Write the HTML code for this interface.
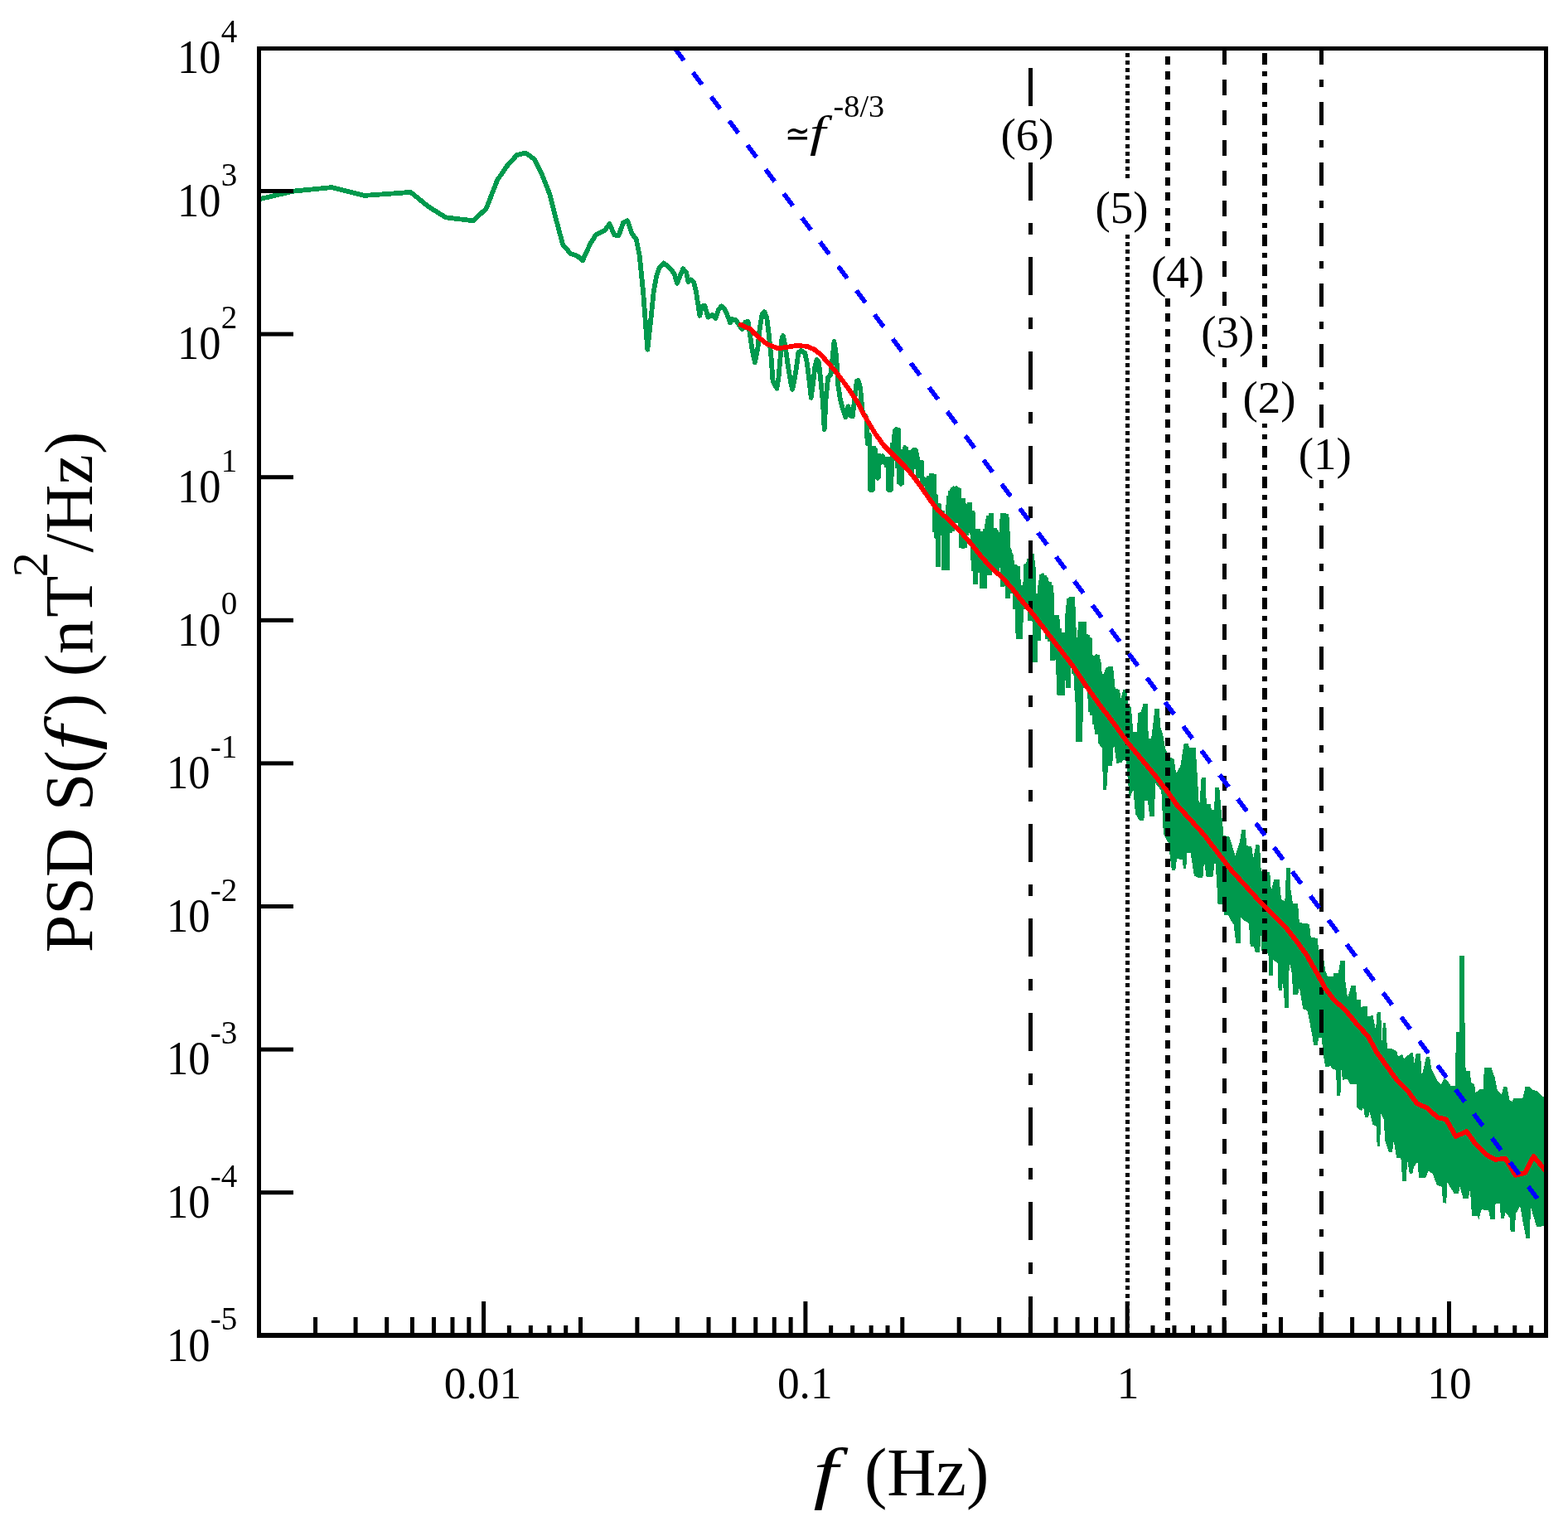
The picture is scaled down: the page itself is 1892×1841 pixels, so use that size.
<!DOCTYPE html>
<html><head><meta charset="utf-8"><title>PSD</title><style>html,body{margin:0;padding:0;background:#fff;overflow:hidden}</style></head><body>
<svg width="1892" height="1841" viewBox="0 0 1892 1841" style="display:block">
<rect width="100%" height="100%" fill="#fff"/>
<defs><clipPath id="pc"><rect x="315" y="61" width="1548" height="1547"/></clipPath></defs>
<g clip-path="url(#pc)" shape-rendering="crispEdges">
<polyline points="300.0,242.5 314.5,239.9 354.2,230.6 400.4,226.1 440.0,235.9 495.6,231.9 516.7,249.1 537.8,262.3 570.9,266.3 586.7,251.7 600.0,217.4 611.8,200.2 623.7,187.0 634.3,184.5 644.9,192.3 654.1,210.8 663.4,234.6 670.0,261.0 679.2,295.3 688.5,305.9 696.4,308.6 703.0,314.4 712.3,294.0 718.9,283.5 729.4,278.2 735.5,270.2 741.3,283.5 746.6,284.0 751.9,268.9 757.2,266.3 762.5,282.1 767.8,288.7 771.7,308.6 776.1,352.1 781.3,421.7 786.1,378.2 788.7,352.1 792.2,333.0 795.6,322.6 800.8,317.4 805.2,320.9 810.8,326.1 814.3,332.2 816.9,341.7 820.8,332.2 824.3,324.3 828.2,328.7 830.4,340.0 833.9,337.4 837.3,340.8 840.0,352.1 842.6,369.5 844.3,380.8 846.9,369.5 850.4,368.7 854.3,382.6 859.1,380.0 863.4,384.3 866.9,373.9 870.4,369.5 873.9,372.1 876.9,378.2 881.2,389.5 883.4,385.2 887.8,386.0 891.2,391.3 895.6,397.3 899.5,388.6 902.5,387.8 904.3,399.1 907.4,420.8 910.9,437.4 914.3,420.8 916.9,394.8 919.6,379.1 922.2,376.1 925.2,382.6 927.8,403.5 930.4,429.5 932.6,460.0 937.4,468.6 939.5,455.6 941.7,429.5 943.5,407.8 944.8,405.2 947.4,416.5 950.4,438.2 953.9,460.0 956.1,469.9 959.1,455.6 961.7,438.2 963.4,425.2 966.9,423.0 971.3,426.1 973.9,438.2 976.5,460.0 978.7,479.9 980.8,464.3 983.4,442.6 985.6,433.9 987.8,436.5 990.0,455.6 993.0,486.0 994.7,518.0 996.5,481.7 999.1,455.6 1002.6,451.3 1004.3,433.9 1006.5,412.1 1009.1,429.5 1011.2,464.3 1013.9,481.7 1016.9,493.0 1020.4,503.4 1023.4,490.4 1025.2,500.8 1028.6,502.5 1031.2,481.7 1033.8,460.0 1035.6,459.1 1038.2,468.6 1040.4,494.7 1042.5,500.8" fill="none" stroke="#00994d" stroke-width="5.8" stroke-linejoin="round"/><polyline points="1040.4,494.7 1042.5,500.8 1044.8,502.5 1045.7,507.7 1046.6,534.3 1047.6,536.7 1048.5,522.2 1049.4,534.6 1050.2,591.4 1051.1,591.4 1052.0,591.4 1052.9,591.4 1053.8,538.5 1054.7,542.9 1055.5,540.3 1056.4,548.0 1057.2,557.5 1058.1,573.7 1058.9,577.1 1059.8,577.1 1060.6,560.9 1061.5,549.5 1062.3,548.2 1063.1,559.4 1064.0,549.3 1064.8,549.6 1065.6,557.6 1066.4,552.5 1067.2,551.8 1068.0,558.7 1068.8,551.1 1069.6,563.9 1070.4,556.1 1071.2,553.2 1072.0,591.4 1072.8,591.4 1073.5,551.2 1074.3,591.4 1075.1,591.4 1075.9,565.7 1076.6,556.7 1077.4,533.7 1078.1,548.2 1078.9,536.5 1079.7,517.7 1080.4,550.2 1081.1,517.7 1081.9,517.7 1082.6,565.4 1083.4,517.7 1084.1,518.2 1084.8,584.3 1085.5,543.6 1086.3,584.3 1087.0,584.3 1087.7,584.3 1088.4,571.6 1089.1,542.1 1089.8,549.1 1090.5,543.4 1091.2,549.0 1091.9,539.7 1092.6,539.4 1093.3,551.5 1094.0,552.3 1094.7,547.5 1095.4,562.0 1096.1,543.6 1096.7,561.1 1097.4,545.4 1098.1,568.8 1098.8,554.0 1099.4,553.2 1100.1,570.6 1100.8,560.5 1101.4,560.7 1102.1,542.5 1102.7,542.5 1103.4,542.6 1104.0,542.5 1104.7,542.5 1105.3,565.8 1106.0,546.3 1106.6,550.7 1107.2,556.7 1107.9,569.6 1108.5,577.2 1109.1,567.2 1109.8,555.2 1110.4,563.0 1111.0,571.0 1111.6,555.5 1112.3,576.9 1112.9,574.9 1113.5,582.2 1114.1,585.3 1114.7,585.9 1115.3,581.6 1115.9,583.0 1116.5,576.4 1117.1,582.1 1117.7,576.4 1118.3,582.5 1118.9,584.6 1119.5,597.3 1120.1,580.1 1120.7,574.0 1121.3,585.9 1121.9,574.5 1122.4,603.4 1123.0,579.8 1123.6,579.5 1124.2,571.4 1124.8,581.5 1125.3,579.7 1125.9,579.9 1126.5,588.5 1127.0,572.5 1127.6,594.2 1128.2,641.9 1128.7,597.3 1129.3,619.8 1129.8,648.8 1130.4,641.9 1131.0,637.4 1131.5,652.4 1132.1,684.1 1132.6,607.3 1133.1,621.9 1133.7,616.2 1134.2,614.7 1134.8,632.9 1135.3,618.5 1135.9,638.2 1136.4,635.8 1136.9,616.1 1137.5,628.1 1138.0,626.2 1138.5,650.8 1139.0,688.0 1139.6,620.9 1140.1,688.0 1140.6,629.2 1141.1,688.0 1141.7,626.3 1142.2,688.0 1142.7,678.3 1143.2,688.0 1143.7,613.7 1144.2,611.0 1144.7,606.6 1145.3,597.8 1145.8,607.1 1146.3,642.7 1146.8,591.8 1147.3,599.6 1147.8,615.5 1148.3,635.1 1148.8,641.4 1149.3,590.1 1149.8,589.2 1150.3,618.3 1150.8,589.1 1151.2,589.0 1151.7,590.0 1152.2,589.0 1152.7,631.1 1153.2,589.0 1153.7,589.0 1154.2,589.0 1154.6,597.2 1155.1,589.0 1155.6,591.5 1156.1,589.0 1156.6,597.6 1157.0,589.5 1157.5,624.3 1158.0,610.6 1158.4,620.3 1158.9,640.8 1159.4,625.0 1159.8,661.3 1160.3,620.8 1160.8,661.4 1161.2,612.3 1161.7,645.9 1162.2,601.4 1162.6,656.9 1163.1,661.4 1163.5,607.4 1164.0,661.4 1164.4,628.0 1164.9,618.7 1165.3,626.1 1165.8,645.7 1166.2,627.3 1166.7,617.7 1167.1,618.6 1167.6,625.7 1168.0,608.2 1168.5,626.1 1168.9,622.5 1169.4,635.2 1169.8,615.6 1170.2,606.2 1170.7,619.0 1171.1,643.0 1171.5,628.6 1172.0,631.6 1172.4,617.2 1172.8,616.5 1173.3,645.0 1173.7,618.0 1174.1,672.9 1174.6,678.0 1175.0,688.7 1175.4,641.2 1175.8,640.8 1176.3,687.3 1176.7,648.3 1177.1,704.9 1177.5,647.3 1177.9,665.4 1178.4,640.1 1178.8,652.3 1179.2,665.1 1179.6,670.6 1180.0,637.9 1180.4,680.1 1180.8,648.6 1181.3,648.9 1181.7,657.3 1182.1,642.8 1182.5,690.9 1182.9,641.4 1183.3,657.2 1183.7,641.0 1184.1,663.7 1184.5,695.5 1184.9,710.0 1185.3,641.4 1185.7,665.4 1186.1,710.1 1186.5,643.2 1186.9,710.1 1187.3,672.3 1187.7,674.2 1188.1,710.0 1188.5,661.6 1188.9,663.1 1189.3,637.8 1189.7,658.2 1190.0,649.8 1190.4,660.4 1190.8,642.9 1191.2,632.1 1191.6,636.4 1192.0,684.5 1192.4,625.7 1192.8,624.4 1193.1,622.8 1193.5,674.0 1193.9,694.0 1194.3,624.3 1194.7,624.7 1195.0,622.3 1195.4,644.3 1195.8,634.6 1196.2,619.3 1196.5,623.0 1196.9,677.1 1197.3,637.1 1197.7,669.1 1198.0,669.0 1198.4,682.8 1198.8,644.5 1199.1,653.3 1199.5,650.9 1199.9,636.9 1200.2,649.6 1200.6,686.0 1201.0,684.1 1201.3,639.3 1201.7,662.0 1202.1,645.1 1202.4,641.7 1202.8,642.3 1203.2,674.6 1203.5,691.8 1203.9,656.1 1204.2,650.5 1204.6,656.7 1204.9,680.6 1205.3,673.8 1205.7,645.7 1206.0,646.2 1206.4,685.4 1206.7,653.0 1207.1,663.6 1207.4,674.7 1207.8,659.5 1208.1,668.6 1208.5,649.0 1208.8,629.4 1209.2,626.1 1209.5,707.6 1209.9,619.5 1210.2,659.4 1210.6,688.7 1210.9,622.6 1211.2,619.1 1211.6,631.7 1211.9,627.5 1212.3,636.9 1212.6,634.4 1213.0,705.0 1213.3,620.6 1213.6,706.8 1214.0,620.0 1214.3,707.1 1214.6,629.1 1215.0,670.6 1215.3,624.5 1215.7,646.0 1216.0,722.3 1216.3,672.9 1216.7,696.0 1217.0,661.0 1217.3,669.3 1217.6,682.6 1218.0,662.9 1218.3,703.2 1218.6,673.0 1219.0,668.1 1219.3,668.4 1219.6,688.9 1219.9,669.4 1220.3,673.6 1220.6,676.8 1220.9,677.6 1221.2,700.6 1221.6,693.5 1221.9,716.4 1222.2,702.2 1222.5,685.9 1222.9,686.6 1223.2,683.3 1223.5,684.9 1223.8,698.2 1224.1,706.4 1224.5,686.2 1224.8,687.6 1225.1,715.3 1225.4,735.2 1225.7,683.2 1226.0,683.1 1226.3,722.1 1226.7,699.3 1227.0,682.9 1227.3,714.2 1227.6,731.1 1227.9,682.9 1228.2,763.8 1228.5,763.3 1228.8,700.5 1229.2,771.0 1229.5,699.1 1229.8,720.6 1230.1,771.0 1230.4,718.8 1230.7,757.3 1231.0,771.0 1231.3,747.9 1231.6,705.6 1231.9,751.4 1232.2,706.0 1232.5,707.8 1232.8,727.0 1233.1,710.1 1233.4,708.6 1233.7,709.1 1234.0,724.8 1234.3,710.4 1234.6,711.2 1234.9,732.5 1235.2,725.1 1235.5,712.3 1235.8,707.2 1236.1,727.1 1236.4,721.5 1236.7,713.4 1237.0,704.9 1237.3,702.6 1237.6,734.8 1237.9,698.3 1238.2,683.2 1238.5,680.2 1238.8,697.8 1239.0,708.5 1239.3,699.4 1239.6,709.5 1239.9,680.3 1240.2,682.9 1240.5,678.6 1240.8,682.4 1241.1,678.0 1241.4,722.1 1241.6,674.4 1241.9,675.2 1242.2,709.3 1242.5,682.4 1242.8,679.2 1243.1,749.1 1243.4,736.6 1243.6,673.3 1243.9,671.3 1244.2,688.3 1244.5,695.9 1244.8,677.6 1245.1,668.2 1245.3,708.8 1245.6,730.6 1245.9,676.0 1246.2,712.2 1246.5,681.5 1246.7,686.8 1247.0,691.9 1247.3,697.7 1247.6,750.3 1247.8,716.4 1248.1,728.3 1248.4,728.3 1248.7,718.4 1248.9,799.0 1249.2,717.9 1249.5,774.9 1249.8,723.4 1250.0,727.8 1250.3,720.1 1250.6,755.7 1250.9,750.6 1251.1,724.9 1251.4,732.2 1251.7,725.2 1251.9,736.5 1252.2,737.6 1252.5,735.9 1252.7,768.2 1253.0,773.4 1253.3,716.0 1253.6,723.2 1253.8,716.0 1254.1,722.3 1254.3,750.6 1254.6,737.5 1254.9,726.4 1255.1,705.6 1255.4,743.5 1255.7,721.7 1255.9,700.3 1256.2,735.4 1256.5,693.6 1256.7,695.3 1257.0,693.6 1257.3,693.8 1257.5,694.6 1257.8,709.3 1258.0,727.0 1258.3,715.9 1258.6,694.2 1258.8,698.3 1259.1,726.8 1259.3,701.3 1259.6,696.4 1259.8,694.6 1260.1,698.4 1260.4,754.0 1260.6,695.0 1260.9,713.7 1261.1,751.3 1261.4,727.0 1261.6,700.0 1261.9,723.2 1262.1,697.4 1262.4,712.6 1262.7,701.5 1262.9,751.6 1263.2,751.1 1263.4,738.9 1263.7,708.2 1263.9,744.5 1264.2,770.8 1264.4,709.5 1264.7,719.6 1264.9,703.3 1265.2,702.6 1265.4,739.2 1265.7,702.2 1265.9,727.7 1266.2,702.7 1266.4,735.3 1266.7,745.8 1266.9,774.3 1267.2,712.5 1267.4,712.6 1267.6,713.4 1267.9,742.2 1268.1,754.3 1268.4,706.3 1268.6,716.5 1268.9,715.5 1269.1,724.1 1269.4,761.1 1269.6,787.1 1269.8,794.0 1270.1,797.1 1270.3,749.4 1270.6,782.7 1270.8,754.2 1271.1,747.4 1271.3,773.9 1271.5,781.6 1271.8,742.8 1272.0,754.8 1272.3,742.8 1272.5,743.3 1272.7,755.4 1273.0,744.6 1273.2,775.5 1273.4,747.9 1273.7,743.3 1273.9,742.0 1274.2,744.8 1274.4,742.1 1274.6,795.5 1274.9,743.3 1275.1,742.4 1275.3,754.3 1275.6,744.4 1275.8,781.3 1276.0,747.6 1276.3,749.0 1276.5,812.3 1276.7,768.1 1277.0,814.2 1277.2,813.1 1277.4,795.0 1277.7,757.9 1277.9,837.8 1278.1,761.1 1278.4,762.4 1278.6,815.4 1278.8,769.6 1279.0,838.8 1279.3,782.8 1279.5,807.9 1279.7,792.2 1280.0,838.8 1280.2,778.6 1280.4,816.8 1280.6,812.6 1280.9,787.1 1281.1,838.8 1281.3,775.5 1281.6,792.4 1281.8,765.7 1282.0,838.8 1282.2,792.1 1282.5,768.9 1282.7,765.8 1282.9,763.7 1283.1,806.9 1283.4,815.0 1283.6,808.9 1283.8,794.3 1284.0,784.9 1284.3,763.5 1284.5,811.3 1284.7,776.0 1284.9,791.1 1285.1,765.3 1285.4,796.9 1285.6,766.3 1285.8,821.1 1286.0,794.8 1286.2,781.5 1286.5,790.6 1286.7,769.4 1286.9,780.6 1287.1,767.3 1287.3,769.8 1287.6,767.8 1287.8,759.0 1288.0,763.0 1288.2,745.8 1288.4,739.7 1288.6,742.3 1288.9,829.6 1289.1,777.2 1289.3,739.1 1289.5,724.3 1289.7,722.2 1289.9,737.1 1290.2,764.4 1290.4,794.3 1290.6,741.6 1290.8,800.7 1291.0,793.2 1291.2,801.6 1291.4,731.1 1291.7,742.8 1291.9,722.8 1292.1,757.3 1292.3,720.8 1292.5,743.6 1292.7,722.9 1292.9,744.8 1293.1,723.4 1293.4,720.5 1293.6,739.3 1293.8,740.1 1294.0,720.4 1294.2,723.3 1294.4,751.1 1294.6,735.8 1294.8,732.0 1295.0,752.4 1295.2,786.7 1295.5,752.7 1295.7,798.9 1295.9,813.0 1296.1,757.3 1296.3,762.8 1296.5,767.5 1296.7,792.0 1296.9,783.4 1297.1,791.9 1297.3,768.9 1297.5,775.5 1297.7,772.7 1297.9,814.9 1298.1,807.6 1298.3,778.4 1298.6,833.1 1298.8,773.5 1299.0,772.5 1299.2,781.8 1299.4,805.9 1299.6,847.0 1299.8,793.4 1300.0,773.8 1300.2,807.6 1300.4,772.5 1300.6,850.9 1300.8,782.6 1301.0,894.5 1301.2,774.4 1301.4,853.2 1301.6,870.8 1301.8,775.5 1302.0,894.5 1302.2,859.7 1302.4,780.2 1302.6,767.4 1302.8,766.6 1303.0,894.5 1303.2,763.4 1303.4,759.9 1303.6,762.3 1303.8,859.0 1304.0,750.0 1304.2,871.0 1304.4,774.8 1304.6,824.0 1304.8,783.0 1305.0,749.9 1305.2,753.3 1305.4,757.1 1305.6,781.8 1305.8,779.7 1306.0,749.9 1306.2,757.9 1306.4,750.4 1306.5,768.1 1306.7,805.1 1306.9,749.9 1307.1,761.9 1307.3,829.5 1307.5,827.4 1307.7,756.7 1307.9,749.9 1308.1,806.5 1308.3,823.4 1308.5,784.6 1308.7,828.0 1308.9,775.4 1309.1,780.8 1309.3,764.9 1309.4,773.2 1309.6,823.5 1309.8,766.4 1310.0,766.9 1310.2,766.2 1310.4,780.9 1310.6,788.9 1310.8,783.6 1311.0,818.1 1311.2,796.0 1311.4,792.1 1311.5,789.3 1311.7,782.3 1311.9,767.3 1312.1,767.6 1312.3,793.3 1312.5,769.7 1312.7,777.4 1312.9,793.9 1313.1,789.9 1313.2,770.9 1313.4,771.7 1313.6,769.1 1313.8,800.8 1314.0,811.1 1314.2,769.5 1314.4,774.0 1314.6,770.1 1314.7,802.9 1314.9,775.8 1315.1,843.2 1315.3,777.0 1315.5,810.0 1315.7,810.8 1315.8,858.6 1316.0,825.0 1316.2,857.9 1316.4,812.8 1316.6,790.4 1316.8,799.8 1317.0,834.3 1317.1,804.4 1317.3,827.0 1317.5,800.0 1317.7,827.2 1317.9,809.7 1318.1,862.7 1318.2,803.3 1318.4,811.1 1318.6,841.7 1318.8,814.2 1319.0,818.6 1319.1,813.4 1319.3,809.1 1319.5,814.6 1319.7,856.6 1319.9,845.9 1320.0,816.9 1320.2,838.5 1320.4,851.3 1320.6,852.1 1320.8,809.7 1320.9,808.8 1321.1,874.4 1321.3,807.7 1321.5,848.2 1321.7,829.1 1321.8,860.6 1322.0,794.4 1322.2,870.6 1322.4,860.2 1322.5,795.6 1322.7,835.0 1322.9,791.9 1323.1,791.9 1323.3,805.2 1323.4,839.1 1323.6,847.1 1323.8,792.3 1324.0,861.3 1324.1,793.0 1324.3,793.9 1324.5,808.7 1324.7,797.0 1324.8,827.9 1325.0,795.1 1325.2,825.7 1325.4,844.7 1325.5,881.0 1325.7,805.8 1325.9,799.3 1326.1,822.8 1326.2,832.3 1326.4,878.4 1326.6,826.2 1326.8,815.4 1326.9,810.5 1327.1,851.4 1327.3,842.9 1327.4,815.1 1327.6,821.6 1327.8,817.5 1328.0,897.2 1328.1,825.7" fill="none" stroke="#00994d" stroke-width="5.8" stroke-linejoin="bevel"/><polygon points="1320.0,809.3 1320.4,811.3 1322.2,788.7 1326.5,790.4 1327.4,813.0 1331.7,813.0 1334.3,806.1 1338.7,803.5 1343.0,804.3 1345.7,830.4 1350.9,832.2 1352.6,842.6 1355.2,832.2 1359.6,832.2 1361.3,851.3 1364.8,853.0 1367.4,882.6 1371.7,882.6 1373.5,860.0 1377.0,858.3 1379.6,848.7 1384.8,848.7 1385.7,891.3 1389.1,891.3 1390.9,877.4 1393.5,854.8 1398.7,854.8 1400.4,878.0 1403.0,885.0 1406.1,903.5 1412.2,913.9 1416.5,915.7 1419.1,933.0 1424.3,924.3 1428.7,896.5 1433.9,896.5 1434.8,901.7 1442.6,901.7 1445.2,943.5 1447.0,974.8 1449.6,938.3 1454.8,938.3 1455.7,969.6 1460.9,969.6 1461.7,976.5 1465.2,976.5 1466.1,950.4 1471.3,950.4 1473.0,971.3 1476.5,1007.8 1483.5,1009.6 1490.4,1032.2 1495.7,1016.5 1498.3,1000.9 1502.6,1000.9 1504.3,1020.0 1510.4,1021.7 1512.2,1035.7 1515.7,1018.3 1520.0,1020.0 1521.7,1050.4 1527.8,1052.2 1532.2,1052.2 1533.9,1074.8 1537.4,1060.9 1543.5,1060.9 1546.1,1085.2 1550.4,1087.0 1552.2,1047.0 1556.5,1047.0 1557.4,1073.0 1560.0,1090.4 1566.1,1090.4 1567.8,1113.0 1580.0,1114.8 1581.7,1130.4 1589.6,1132.2 1591.3,1146.1 1596.5,1151.3 1599.1,1170.4 1601.7,1177.6 1608.7,1177.6 1609.6,1174.1 1614.8,1174.1 1617.4,1159.4 1622.6,1159.4 1623.5,1184.8 1626.1,1203.9 1630.4,1189.1 1635.7,1189.3 1637.4,1205.7 1641.7,1205.7 1642.6,1216.1 1645.2,1213.5 1649.6,1213.7 1650.4,1226.5 1656.5,1224.8 1660.0,1242.2 1661.7,1221.3 1666.1,1221.5 1667.8,1261.3 1668.7,1234.3 1672.2,1234.5 1673.9,1264.8 1678.3,1264.8 1685.2,1268.3 1687.0,1274.3 1692.2,1271.7 1693.9,1277.0 1700.9,1271.7 1702.6,1270.0 1705.2,1270.0 1706.1,1283.9 1708.7,1270.9 1713.9,1270.9 1715.7,1297.8 1717.4,1290.9 1720.9,1275.2 1725.2,1275.2 1727.0,1289.1 1733.9,1303.0 1739.1,1308.3 1742.6,1301.3 1746.4,1303.6 1750.6,1310.0 1755.9,1310.0 1756.9,1245.4 1761.2,1245.4 1761.2,1153.3 1766.5,1153.3 1767.5,1233.7 1768.6,1292.0 1773.9,1292.0 1774.9,1305.7 1779.2,1307.9 1780.2,1318.4 1785.5,1314.2 1789.8,1314.2 1790.8,1287.7 1799.3,1287.7 1803.5,1299.4 1806.7,1315.3 1812.0,1320.6 1814.1,1311.0 1818.3,1311.0 1821.5,1326.9 1824.7,1329.0 1826.8,1324.8 1837.4,1324.8 1840.6,1311.0 1845.9,1311.0 1848.0,1314.2 1854.3,1316.3 1861.7,1322.7 1870.0,1322.7 1870.0,1479.3 1861.7,1479.3 1854.3,1480.4 1846.9,1456.0 1845.9,1494.2 1841.6,1494.2 1837.4,1473.0 1834.2,1455.0 1828.9,1464.5 1827.9,1485.7 1822.6,1485.7 1821.5,1468.8 1816.2,1462.4 1815.2,1469.8 1810.9,1469.8 1809.9,1451.8 1804.6,1451.8 1803.5,1470.9 1798.2,1470.9 1796.1,1460.3 1787.6,1459.2 1784.5,1470.9 1782.3,1466.6 1776.0,1466.6 1773.9,1434.9 1771.8,1445.5 1765.4,1445.5 1761.2,1430.7 1760.1,1440.2 1754.8,1440.2 1746.4,1426.4 1745.2,1451.8 1740.9,1450.9 1740.0,1431.7 1733.9,1430.0 1728.7,1416.1 1723.5,1412.6 1720.0,1421.3 1712.2,1421.3 1710.4,1402.2 1706.1,1407.4 1704.3,1416.1 1700.9,1416.1 1698.3,1400.4 1696.5,1424.8 1692.2,1424.8 1690.4,1397.0 1685.2,1397.0 1681.7,1376.1 1680.0,1390.0 1675.7,1390.0 1671.3,1376.1 1669.6,1350.0 1666.1,1343.0 1665.2,1383.0 1661.7,1383.0 1660.9,1358.7 1656.5,1357.0 1652.2,1340.4 1651.3,1348.3 1647.0,1348.3 1645.2,1336.1 1642.6,1340.4 1637.4,1336.1 1636.5,1308.3 1629.6,1308.3 1625.2,1301.3 1620.0,1303.0 1618.3,1289.1 1617.4,1322.2 1613.0,1322.2 1612.2,1290.9 1607.0,1289.1 1605.2,1285.5 1603.5,1287.0 1599.1,1287.0 1596.5,1271.3 1594.8,1252.2 1591.3,1252.2 1589.6,1260.9 1585.2,1260.9 1583.5,1250.4 1580.0,1231.3 1577.4,1219.1 1572.2,1217.4 1567.8,1191.3 1566.1,1200.0 1560.0,1200.0 1559.1,1175.7 1555.7,1160.0 1554.8,1215.7 1550.4,1215.7 1547.8,1182.6 1547.0,1194.8 1542.6,1194.8 1541.7,1161.7 1536.5,1158.3 1535.7,1177.4 1531.3,1177.4 1530.4,1149.6 1522.6,1149.6 1521.7,1126.1 1520.0,1148.7 1514.8,1148.7 1513.0,1141.7 1508.7,1141.7 1507.0,1113.9 1500.9,1110.4 1497.4,1107.0 1496.5,1138.3 1491.3,1138.3 1488.7,1115.7 1485.2,1110.4 1481.7,1103.5 1477.4,1103.5 1474.8,1091.3 1469.6,1091.3 1467.8,1058.3 1466.1,1037.4 1463.5,1057.4 1455.7,1058.3 1453.0,1039.1 1451.3,1059.1 1446.1,1059.1 1440.9,1056.5 1436.5,1028.7 1432.2,1028.7 1431.3,1047.8 1427.8,1047.8 1427.0,1037.4 1420.0,1035.7 1418.3,1049.6 1413.9,1049.6 1409.6,1016.5 1403.9,1006.1 1401.3,953.9 1394.3,945.2 1392.6,985.2 1387.4,985.2 1384.8,966.1 1381.3,966.1 1380.4,990.4 1375.2,990.4 1370.0,981.7 1367.4,952.2 1363.0,964.3 1358.7,917.4 1355.2,917.4 1353.5,920.0 1347.4,920.9 1343.9,896.5 1342.2,923.5 1337.0,924.3 1335.2,953.0 1330.9,953.0 1330.0,902.6 1326.5,898.3 1324.8,886.1 1321.3,886.1 1320.0,876.8" fill="#00994d"/>
<g fill="#000"><rect x="1241.00" y="81.80" width="5" height="46.00"/><rect x="1241.00" y="154.80" width="5" height="14.00"/><rect x="1241.00" y="195.80" width="5" height="46.00"/><rect x="1241.00" y="268.80" width="5" height="14.00"/><rect x="1241.00" y="309.80" width="5" height="46.00"/><rect x="1241.00" y="382.80" width="5" height="14.00"/><rect x="1241.00" y="423.80" width="5" height="46.00"/><rect x="1241.00" y="496.80" width="5" height="14.00"/><rect x="1241.00" y="537.80" width="5" height="46.00"/><rect x="1241.00" y="610.80" width="5" height="14.00"/><rect x="1241.00" y="651.80" width="5" height="46.00"/><rect x="1241.00" y="724.80" width="5" height="14.00"/><rect x="1241.00" y="765.80" width="5" height="46.00"/><rect x="1241.00" y="838.80" width="5" height="14.00"/><rect x="1241.00" y="879.80" width="5" height="46.00"/><rect x="1241.00" y="952.80" width="5" height="14.00"/><rect x="1241.00" y="993.80" width="5" height="46.00"/><rect x="1241.00" y="1066.80" width="5" height="14.00"/><rect x="1241.00" y="1107.80" width="5" height="46.00"/><rect x="1241.00" y="1180.80" width="5" height="14.00"/><rect x="1241.00" y="1221.80" width="5" height="46.00"/><rect x="1241.00" y="1294.80" width="5" height="14.00"/><rect x="1241.00" y="1335.80" width="5" height="46.00"/><rect x="1241.00" y="1408.80" width="5" height="14.00"/><rect x="1241.00" y="1449.80" width="5" height="46.00"/><rect x="1241.00" y="1522.80" width="5" height="14.00"/><rect x="1241.00" y="1563.80" width="5" height="46.00"/><rect x="1358.00" y="58.50" width="5" height="1.38"/><rect x="1358.00" y="64.00" width="5" height="5.00"/><rect x="1358.00" y="73.12" width="5" height="5.00"/><rect x="1358.00" y="82.25" width="5" height="5.00"/><rect x="1358.00" y="91.38" width="5" height="5.00"/><rect x="1358.00" y="100.50" width="5" height="5.00"/><rect x="1358.00" y="109.62" width="5" height="5.00"/><rect x="1358.00" y="118.75" width="5" height="5.00"/><rect x="1358.00" y="127.88" width="5" height="5.00"/><rect x="1358.00" y="137.00" width="5" height="5.00"/><rect x="1358.00" y="146.12" width="5" height="5.00"/><rect x="1358.00" y="155.25" width="5" height="5.00"/><rect x="1358.00" y="164.38" width="5" height="5.00"/><rect x="1358.00" y="173.50" width="5" height="5.00"/><rect x="1358.00" y="182.62" width="5" height="5.00"/><rect x="1358.00" y="191.75" width="5" height="5.00"/><rect x="1358.00" y="200.88" width="5" height="5.00"/><rect x="1358.00" y="210.00" width="5" height="5.00"/><rect x="1358.00" y="219.12" width="5" height="5.00"/><rect x="1358.00" y="228.25" width="5" height="5.00"/><rect x="1358.00" y="237.38" width="5" height="5.00"/><rect x="1358.00" y="246.50" width="5" height="5.00"/><rect x="1358.00" y="255.62" width="5" height="5.00"/><rect x="1358.00" y="264.75" width="5" height="5.00"/><rect x="1358.00" y="273.88" width="5" height="5.00"/><rect x="1358.00" y="283.00" width="5" height="5.00"/><rect x="1358.00" y="292.12" width="5" height="5.00"/><rect x="1358.00" y="301.25" width="5" height="5.00"/><rect x="1358.00" y="310.38" width="5" height="5.00"/><rect x="1358.00" y="319.50" width="5" height="5.00"/><rect x="1358.00" y="328.62" width="5" height="5.00"/><rect x="1358.00" y="337.75" width="5" height="5.00"/><rect x="1358.00" y="346.88" width="5" height="5.00"/><rect x="1358.00" y="356.00" width="5" height="5.00"/><rect x="1358.00" y="365.12" width="5" height="5.00"/><rect x="1358.00" y="374.25" width="5" height="5.00"/><rect x="1358.00" y="383.38" width="5" height="5.00"/><rect x="1358.00" y="392.50" width="5" height="5.00"/><rect x="1358.00" y="401.62" width="5" height="5.00"/><rect x="1358.00" y="410.75" width="5" height="5.00"/><rect x="1358.00" y="419.88" width="5" height="5.00"/><rect x="1358.00" y="429.00" width="5" height="5.00"/><rect x="1358.00" y="438.12" width="5" height="5.00"/><rect x="1358.00" y="447.25" width="5" height="5.00"/><rect x="1358.00" y="456.38" width="5" height="5.00"/><rect x="1358.00" y="465.50" width="5" height="5.00"/><rect x="1358.00" y="474.62" width="5" height="5.00"/><rect x="1358.00" y="483.75" width="5" height="5.00"/><rect x="1358.00" y="492.88" width="5" height="5.00"/><rect x="1358.00" y="502.00" width="5" height="5.00"/><rect x="1358.00" y="511.12" width="5" height="5.00"/><rect x="1358.00" y="520.25" width="5" height="5.00"/><rect x="1358.00" y="529.38" width="5" height="5.00"/><rect x="1358.00" y="538.50" width="5" height="5.00"/><rect x="1358.00" y="547.62" width="5" height="5.00"/><rect x="1358.00" y="556.75" width="5" height="5.00"/><rect x="1358.00" y="565.88" width="5" height="5.00"/><rect x="1358.00" y="575.00" width="5" height="5.00"/><rect x="1358.00" y="584.12" width="5" height="5.00"/><rect x="1358.00" y="593.25" width="5" height="5.00"/><rect x="1358.00" y="602.38" width="5" height="5.00"/><rect x="1358.00" y="611.50" width="5" height="5.00"/><rect x="1358.00" y="620.62" width="5" height="5.00"/><rect x="1358.00" y="629.75" width="5" height="5.00"/><rect x="1358.00" y="638.88" width="5" height="5.00"/><rect x="1358.00" y="648.00" width="5" height="5.00"/><rect x="1358.00" y="657.12" width="5" height="5.00"/><rect x="1358.00" y="666.25" width="5" height="5.00"/><rect x="1358.00" y="675.38" width="5" height="5.00"/><rect x="1358.00" y="684.50" width="5" height="5.00"/><rect x="1358.00" y="693.62" width="5" height="5.00"/><rect x="1358.00" y="702.75" width="5" height="5.00"/><rect x="1358.00" y="711.88" width="5" height="5.00"/><rect x="1358.00" y="721.00" width="5" height="5.00"/><rect x="1358.00" y="730.12" width="5" height="5.00"/><rect x="1358.00" y="739.25" width="5" height="5.00"/><rect x="1358.00" y="748.38" width="5" height="5.00"/><rect x="1358.00" y="757.50" width="5" height="5.00"/><rect x="1358.00" y="766.62" width="5" height="5.00"/><rect x="1358.00" y="775.75" width="5" height="5.00"/><rect x="1358.00" y="784.88" width="5" height="5.00"/><rect x="1358.00" y="794.00" width="5" height="5.00"/><rect x="1358.00" y="803.12" width="5" height="5.00"/><rect x="1358.00" y="812.25" width="5" height="5.00"/><rect x="1358.00" y="821.38" width="5" height="5.00"/><rect x="1358.00" y="830.50" width="5" height="5.00"/><rect x="1358.00" y="839.62" width="5" height="5.00"/><rect x="1358.00" y="848.75" width="5" height="5.00"/><rect x="1358.00" y="857.88" width="5" height="5.00"/><rect x="1358.00" y="867.00" width="5" height="5.00"/><rect x="1358.00" y="876.12" width="5" height="5.00"/><rect x="1358.00" y="885.25" width="5" height="5.00"/><rect x="1358.00" y="894.38" width="5" height="5.00"/><rect x="1358.00" y="903.50" width="5" height="5.00"/><rect x="1358.00" y="912.62" width="5" height="5.00"/><rect x="1358.00" y="921.75" width="5" height="5.00"/><rect x="1358.00" y="930.88" width="5" height="5.00"/><rect x="1358.00" y="940.00" width="5" height="5.00"/><rect x="1358.00" y="949.12" width="5" height="5.00"/><rect x="1358.00" y="958.25" width="5" height="5.00"/><rect x="1358.00" y="967.38" width="5" height="5.00"/><rect x="1358.00" y="976.50" width="5" height="5.00"/><rect x="1358.00" y="985.62" width="5" height="5.00"/><rect x="1358.00" y="994.75" width="5" height="5.00"/><rect x="1358.00" y="1003.88" width="5" height="5.00"/><rect x="1358.00" y="1013.00" width="5" height="5.00"/><rect x="1358.00" y="1022.12" width="5" height="5.00"/><rect x="1358.00" y="1031.25" width="5" height="5.00"/><rect x="1358.00" y="1040.38" width="5" height="5.00"/><rect x="1358.00" y="1049.50" width="5" height="5.00"/><rect x="1358.00" y="1058.62" width="5" height="5.00"/><rect x="1358.00" y="1067.75" width="5" height="5.00"/><rect x="1358.00" y="1076.88" width="5" height="5.00"/><rect x="1358.00" y="1086.00" width="5" height="5.00"/><rect x="1358.00" y="1095.12" width="5" height="5.00"/><rect x="1358.00" y="1104.25" width="5" height="5.00"/><rect x="1358.00" y="1113.38" width="5" height="5.00"/><rect x="1358.00" y="1122.50" width="5" height="5.00"/><rect x="1358.00" y="1131.62" width="5" height="5.00"/><rect x="1358.00" y="1140.75" width="5" height="5.00"/><rect x="1358.00" y="1149.88" width="5" height="5.00"/><rect x="1358.00" y="1159.00" width="5" height="5.00"/><rect x="1358.00" y="1168.12" width="5" height="5.00"/><rect x="1358.00" y="1177.25" width="5" height="5.00"/><rect x="1358.00" y="1186.38" width="5" height="5.00"/><rect x="1358.00" y="1195.50" width="5" height="5.00"/><rect x="1358.00" y="1204.62" width="5" height="5.00"/><rect x="1358.00" y="1213.75" width="5" height="5.00"/><rect x="1358.00" y="1222.88" width="5" height="5.00"/><rect x="1358.00" y="1232.00" width="5" height="5.00"/><rect x="1358.00" y="1241.12" width="5" height="5.00"/><rect x="1358.00" y="1250.25" width="5" height="5.00"/><rect x="1358.00" y="1259.38" width="5" height="5.00"/><rect x="1358.00" y="1268.50" width="5" height="5.00"/><rect x="1358.00" y="1277.62" width="5" height="5.00"/><rect x="1358.00" y="1286.75" width="5" height="5.00"/><rect x="1358.00" y="1295.88" width="5" height="5.00"/><rect x="1358.00" y="1305.00" width="5" height="5.00"/><rect x="1358.00" y="1314.12" width="5" height="5.00"/><rect x="1358.00" y="1323.25" width="5" height="5.00"/><rect x="1358.00" y="1332.38" width="5" height="5.00"/><rect x="1358.00" y="1341.50" width="5" height="5.00"/><rect x="1358.00" y="1350.62" width="5" height="5.00"/><rect x="1358.00" y="1359.75" width="5" height="5.00"/><rect x="1358.00" y="1368.88" width="5" height="5.00"/><rect x="1358.00" y="1378.00" width="5" height="5.00"/><rect x="1358.00" y="1387.12" width="5" height="5.00"/><rect x="1358.00" y="1396.25" width="5" height="5.00"/><rect x="1358.00" y="1405.38" width="5" height="5.00"/><rect x="1358.00" y="1414.50" width="5" height="5.00"/><rect x="1358.00" y="1423.62" width="5" height="5.00"/><rect x="1358.00" y="1432.75" width="5" height="5.00"/><rect x="1358.00" y="1441.88" width="5" height="5.00"/><rect x="1358.00" y="1451.00" width="5" height="5.00"/><rect x="1358.00" y="1460.12" width="5" height="5.00"/><rect x="1358.00" y="1469.25" width="5" height="5.00"/><rect x="1358.00" y="1478.38" width="5" height="5.00"/><rect x="1358.00" y="1487.50" width="5" height="5.00"/><rect x="1358.00" y="1496.62" width="5" height="5.00"/><rect x="1358.00" y="1505.75" width="5" height="5.00"/><rect x="1358.00" y="1514.88" width="5" height="5.00"/><rect x="1358.00" y="1524.00" width="5" height="5.00"/><rect x="1358.00" y="1533.12" width="5" height="5.00"/><rect x="1358.00" y="1542.25" width="5" height="5.00"/><rect x="1358.00" y="1551.38" width="5" height="5.00"/><rect x="1358.00" y="1560.50" width="5" height="5.00"/><rect x="1358.00" y="1569.62" width="5" height="5.00"/><rect x="1358.00" y="1578.75" width="5" height="5.00"/><rect x="1358.00" y="1587.88" width="5" height="5.00"/><rect x="1358.00" y="1597.00" width="5" height="5.00"/><rect x="1358.00" y="1606.12" width="5" height="4.38"/><rect x="1406.25" y="58.50" width="5.5" height="1.04"/><rect x="1406.25" y="67.90" width="5.5" height="9.90"/><rect x="1406.25" y="86.16" width="5.5" height="9.90"/><rect x="1406.25" y="104.42" width="5.5" height="9.90"/><rect x="1406.25" y="122.68" width="5.5" height="9.90"/><rect x="1406.25" y="140.94" width="5.5" height="9.90"/><rect x="1406.25" y="159.20" width="5.5" height="9.90"/><rect x="1406.25" y="177.46" width="5.5" height="9.90"/><rect x="1406.25" y="195.72" width="5.5" height="9.90"/><rect x="1406.25" y="213.98" width="5.5" height="9.90"/><rect x="1406.25" y="232.24" width="5.5" height="9.90"/><rect x="1406.25" y="250.50" width="5.5" height="9.90"/><rect x="1406.25" y="268.76" width="5.5" height="9.90"/><rect x="1406.25" y="287.02" width="5.5" height="9.90"/><rect x="1406.25" y="305.28" width="5.5" height="9.90"/><rect x="1406.25" y="323.54" width="5.5" height="9.90"/><rect x="1406.25" y="341.80" width="5.5" height="9.90"/><rect x="1406.25" y="360.06" width="5.5" height="9.90"/><rect x="1406.25" y="378.32" width="5.5" height="9.90"/><rect x="1406.25" y="396.58" width="5.5" height="9.90"/><rect x="1406.25" y="414.84" width="5.5" height="9.90"/><rect x="1406.25" y="433.10" width="5.5" height="9.90"/><rect x="1406.25" y="451.36" width="5.5" height="9.90"/><rect x="1406.25" y="469.62" width="5.5" height="9.90"/><rect x="1406.25" y="487.88" width="5.5" height="9.90"/><rect x="1406.25" y="506.14" width="5.5" height="9.90"/><rect x="1406.25" y="524.40" width="5.5" height="9.90"/><rect x="1406.25" y="542.66" width="5.5" height="9.90"/><rect x="1406.25" y="560.92" width="5.5" height="9.90"/><rect x="1406.25" y="579.18" width="5.5" height="9.90"/><rect x="1406.25" y="597.44" width="5.5" height="9.90"/><rect x="1406.25" y="615.70" width="5.5" height="9.90"/><rect x="1406.25" y="633.96" width="5.5" height="9.90"/><rect x="1406.25" y="652.22" width="5.5" height="9.90"/><rect x="1406.25" y="670.48" width="5.5" height="9.90"/><rect x="1406.25" y="688.74" width="5.5" height="9.90"/><rect x="1406.25" y="707.00" width="5.5" height="9.90"/><rect x="1406.25" y="725.26" width="5.5" height="9.90"/><rect x="1406.25" y="743.52" width="5.5" height="9.90"/><rect x="1406.25" y="761.78" width="5.5" height="9.90"/><rect x="1406.25" y="780.04" width="5.5" height="9.90"/><rect x="1406.25" y="798.30" width="5.5" height="9.90"/><rect x="1406.25" y="816.56" width="5.5" height="9.90"/><rect x="1406.25" y="834.82" width="5.5" height="9.90"/><rect x="1406.25" y="853.08" width="5.5" height="9.90"/><rect x="1406.25" y="871.34" width="5.5" height="9.90"/><rect x="1406.25" y="889.60" width="5.5" height="9.90"/><rect x="1406.25" y="907.86" width="5.5" height="9.90"/><rect x="1406.25" y="926.12" width="5.5" height="9.90"/><rect x="1406.25" y="944.38" width="5.5" height="9.90"/><rect x="1406.25" y="962.64" width="5.5" height="9.90"/><rect x="1406.25" y="980.90" width="5.5" height="9.90"/><rect x="1406.25" y="999.16" width="5.5" height="9.90"/><rect x="1406.25" y="1017.42" width="5.5" height="9.90"/><rect x="1406.25" y="1035.68" width="5.5" height="9.90"/><rect x="1406.25" y="1053.94" width="5.5" height="9.90"/><rect x="1406.25" y="1072.20" width="5.5" height="9.90"/><rect x="1406.25" y="1090.46" width="5.5" height="9.90"/><rect x="1406.25" y="1108.72" width="5.5" height="9.90"/><rect x="1406.25" y="1126.98" width="5.5" height="9.90"/><rect x="1406.25" y="1145.24" width="5.5" height="9.90"/><rect x="1406.25" y="1163.50" width="5.5" height="9.90"/><rect x="1406.25" y="1181.76" width="5.5" height="9.90"/><rect x="1406.25" y="1200.02" width="5.5" height="9.90"/><rect x="1406.25" y="1218.28" width="5.5" height="9.90"/><rect x="1406.25" y="1236.54" width="5.5" height="9.90"/><rect x="1406.25" y="1254.80" width="5.5" height="9.90"/><rect x="1406.25" y="1273.06" width="5.5" height="9.90"/><rect x="1406.25" y="1291.32" width="5.5" height="9.90"/><rect x="1406.25" y="1309.58" width="5.5" height="9.90"/><rect x="1406.25" y="1327.84" width="5.5" height="9.90"/><rect x="1406.25" y="1346.10" width="5.5" height="9.90"/><rect x="1406.25" y="1364.36" width="5.5" height="9.90"/><rect x="1406.25" y="1382.62" width="5.5" height="9.90"/><rect x="1406.25" y="1400.88" width="5.5" height="9.90"/><rect x="1406.25" y="1419.14" width="5.5" height="9.90"/><rect x="1406.25" y="1437.40" width="5.5" height="9.90"/><rect x="1406.25" y="1455.66" width="5.5" height="9.90"/><rect x="1406.25" y="1473.92" width="5.5" height="9.90"/><rect x="1406.25" y="1492.18" width="5.5" height="9.90"/><rect x="1406.25" y="1510.44" width="5.5" height="9.90"/><rect x="1406.25" y="1528.70" width="5.5" height="9.90"/><rect x="1406.25" y="1546.96" width="5.5" height="9.90"/><rect x="1406.25" y="1565.22" width="5.5" height="9.90"/><rect x="1406.25" y="1583.48" width="5.5" height="9.90"/><rect x="1406.25" y="1601.74" width="5.5" height="8.76"/><rect x="1475.00" y="59.80" width="5" height="18.60"/><rect x="1475.00" y="96.30" width="5" height="18.60"/><rect x="1475.00" y="132.80" width="5" height="18.60"/><rect x="1475.00" y="169.30" width="5" height="18.60"/><rect x="1475.00" y="205.80" width="5" height="18.60"/><rect x="1475.00" y="242.30" width="5" height="18.60"/><rect x="1475.00" y="278.80" width="5" height="18.60"/><rect x="1475.00" y="315.30" width="5" height="18.60"/><rect x="1475.00" y="351.80" width="5" height="18.60"/><rect x="1475.00" y="388.30" width="5" height="18.60"/><rect x="1475.00" y="424.80" width="5" height="18.60"/><rect x="1475.00" y="461.30" width="5" height="18.60"/><rect x="1475.00" y="497.80" width="5" height="18.60"/><rect x="1475.00" y="534.30" width="5" height="18.60"/><rect x="1475.00" y="570.80" width="5" height="18.60"/><rect x="1475.00" y="607.30" width="5" height="18.60"/><rect x="1475.00" y="643.80" width="5" height="18.60"/><rect x="1475.00" y="680.30" width="5" height="18.60"/><rect x="1475.00" y="716.80" width="5" height="18.60"/><rect x="1475.00" y="753.30" width="5" height="18.60"/><rect x="1475.00" y="789.80" width="5" height="18.60"/><rect x="1475.00" y="826.30" width="5" height="18.60"/><rect x="1475.00" y="862.80" width="5" height="18.60"/><rect x="1475.00" y="899.30" width="5" height="18.60"/><rect x="1475.00" y="935.80" width="5" height="18.60"/><rect x="1475.00" y="972.30" width="5" height="18.60"/><rect x="1475.00" y="1008.80" width="5" height="18.60"/><rect x="1475.00" y="1045.30" width="5" height="18.60"/><rect x="1475.00" y="1081.80" width="5" height="18.60"/><rect x="1475.00" y="1118.30" width="5" height="18.60"/><rect x="1475.00" y="1154.80" width="5" height="18.60"/><rect x="1475.00" y="1191.30" width="5" height="18.60"/><rect x="1475.00" y="1227.80" width="5" height="18.60"/><rect x="1475.00" y="1264.30" width="5" height="18.60"/><rect x="1475.00" y="1300.80" width="5" height="18.60"/><rect x="1475.00" y="1337.30" width="5" height="18.60"/><rect x="1475.00" y="1373.80" width="5" height="18.60"/><rect x="1475.00" y="1410.30" width="5" height="18.60"/><rect x="1475.00" y="1446.80" width="5" height="18.60"/><rect x="1475.00" y="1483.30" width="5" height="18.60"/><rect x="1475.00" y="1519.80" width="5" height="18.60"/><rect x="1475.00" y="1556.30" width="5" height="18.60"/><rect x="1475.00" y="1592.80" width="5" height="17.70"/><rect x="1523.25" y="63.90" width="5.5" height="14.00"/><rect x="1523.25" y="86.30" width="5.5" height="5.70"/><rect x="1523.25" y="100.40" width="5.5" height="14.00"/><rect x="1523.25" y="122.80" width="5.5" height="5.70"/><rect x="1523.25" y="136.90" width="5.5" height="14.00"/><rect x="1523.25" y="159.30" width="5.5" height="5.70"/><rect x="1523.25" y="173.40" width="5.5" height="14.00"/><rect x="1523.25" y="195.80" width="5.5" height="5.70"/><rect x="1523.25" y="209.90" width="5.5" height="14.00"/><rect x="1523.25" y="232.30" width="5.5" height="5.70"/><rect x="1523.25" y="246.40" width="5.5" height="14.00"/><rect x="1523.25" y="268.80" width="5.5" height="5.70"/><rect x="1523.25" y="282.90" width="5.5" height="14.00"/><rect x="1523.25" y="305.30" width="5.5" height="5.70"/><rect x="1523.25" y="319.40" width="5.5" height="14.00"/><rect x="1523.25" y="341.80" width="5.5" height="5.70"/><rect x="1523.25" y="355.90" width="5.5" height="14.00"/><rect x="1523.25" y="378.30" width="5.5" height="5.70"/><rect x="1523.25" y="392.40" width="5.5" height="14.00"/><rect x="1523.25" y="414.80" width="5.5" height="5.70"/><rect x="1523.25" y="428.90" width="5.5" height="14.00"/><rect x="1523.25" y="451.30" width="5.5" height="5.70"/><rect x="1523.25" y="465.40" width="5.5" height="14.00"/><rect x="1523.25" y="487.80" width="5.5" height="5.70"/><rect x="1523.25" y="501.90" width="5.5" height="14.00"/><rect x="1523.25" y="524.30" width="5.5" height="5.70"/><rect x="1523.25" y="538.40" width="5.5" height="14.00"/><rect x="1523.25" y="560.80" width="5.5" height="5.70"/><rect x="1523.25" y="574.90" width="5.5" height="14.00"/><rect x="1523.25" y="597.30" width="5.5" height="5.70"/><rect x="1523.25" y="611.40" width="5.5" height="14.00"/><rect x="1523.25" y="633.80" width="5.5" height="5.70"/><rect x="1523.25" y="647.90" width="5.5" height="14.00"/><rect x="1523.25" y="670.30" width="5.5" height="5.70"/><rect x="1523.25" y="684.40" width="5.5" height="14.00"/><rect x="1523.25" y="706.80" width="5.5" height="5.70"/><rect x="1523.25" y="720.90" width="5.5" height="14.00"/><rect x="1523.25" y="743.30" width="5.5" height="5.70"/><rect x="1523.25" y="757.40" width="5.5" height="14.00"/><rect x="1523.25" y="779.80" width="5.5" height="5.70"/><rect x="1523.25" y="793.90" width="5.5" height="14.00"/><rect x="1523.25" y="816.30" width="5.5" height="5.70"/><rect x="1523.25" y="830.40" width="5.5" height="14.00"/><rect x="1523.25" y="852.80" width="5.5" height="5.70"/><rect x="1523.25" y="866.90" width="5.5" height="14.00"/><rect x="1523.25" y="889.30" width="5.5" height="5.70"/><rect x="1523.25" y="903.40" width="5.5" height="14.00"/><rect x="1523.25" y="925.80" width="5.5" height="5.70"/><rect x="1523.25" y="939.90" width="5.5" height="14.00"/><rect x="1523.25" y="962.30" width="5.5" height="5.70"/><rect x="1523.25" y="976.40" width="5.5" height="14.00"/><rect x="1523.25" y="998.80" width="5.5" height="5.70"/><rect x="1523.25" y="1012.90" width="5.5" height="14.00"/><rect x="1523.25" y="1035.30" width="5.5" height="5.70"/><rect x="1523.25" y="1049.40" width="5.5" height="14.00"/><rect x="1523.25" y="1071.80" width="5.5" height="5.70"/><rect x="1523.25" y="1085.90" width="5.5" height="14.00"/><rect x="1523.25" y="1108.30" width="5.5" height="5.70"/><rect x="1523.25" y="1122.40" width="5.5" height="14.00"/><rect x="1523.25" y="1144.80" width="5.5" height="5.70"/><rect x="1523.25" y="1158.90" width="5.5" height="14.00"/><rect x="1523.25" y="1181.30" width="5.5" height="5.70"/><rect x="1523.25" y="1195.40" width="5.5" height="14.00"/><rect x="1523.25" y="1217.80" width="5.5" height="5.70"/><rect x="1523.25" y="1231.90" width="5.5" height="14.00"/><rect x="1523.25" y="1254.30" width="5.5" height="5.70"/><rect x="1523.25" y="1268.40" width="5.5" height="14.00"/><rect x="1523.25" y="1290.80" width="5.5" height="5.70"/><rect x="1523.25" y="1304.90" width="5.5" height="14.00"/><rect x="1523.25" y="1327.30" width="5.5" height="5.70"/><rect x="1523.25" y="1341.40" width="5.5" height="14.00"/><rect x="1523.25" y="1363.80" width="5.5" height="5.70"/><rect x="1523.25" y="1377.90" width="5.5" height="14.00"/><rect x="1523.25" y="1400.30" width="5.5" height="5.70"/><rect x="1523.25" y="1414.40" width="5.5" height="14.00"/><rect x="1523.25" y="1436.80" width="5.5" height="5.70"/><rect x="1523.25" y="1450.90" width="5.5" height="14.00"/><rect x="1523.25" y="1473.30" width="5.5" height="5.70"/><rect x="1523.25" y="1487.40" width="5.5" height="14.00"/><rect x="1523.25" y="1509.80" width="5.5" height="5.70"/><rect x="1523.25" y="1523.90" width="5.5" height="14.00"/><rect x="1523.25" y="1546.30" width="5.5" height="5.70"/><rect x="1523.25" y="1560.40" width="5.5" height="14.00"/><rect x="1523.25" y="1582.80" width="5.5" height="5.70"/><rect x="1523.25" y="1596.90" width="5.5" height="13.60"/><rect x="1592.00" y="58.50" width="5" height="19.30"/><rect x="1592.00" y="96.10" width="5" height="8.70"/><rect x="1592.00" y="123.00" width="5" height="27.80"/><rect x="1592.00" y="169.10" width="5" height="8.70"/><rect x="1592.00" y="196.00" width="5" height="27.80"/><rect x="1592.00" y="242.10" width="5" height="8.70"/><rect x="1592.00" y="269.00" width="5" height="27.80"/><rect x="1592.00" y="315.10" width="5" height="8.70"/><rect x="1592.00" y="342.00" width="5" height="27.80"/><rect x="1592.00" y="388.10" width="5" height="8.70"/><rect x="1592.00" y="415.00" width="5" height="27.80"/><rect x="1592.00" y="461.10" width="5" height="8.70"/><rect x="1592.00" y="488.00" width="5" height="27.80"/><rect x="1592.00" y="534.10" width="5" height="8.70"/><rect x="1592.00" y="561.00" width="5" height="27.80"/><rect x="1592.00" y="607.10" width="5" height="8.70"/><rect x="1592.00" y="634.00" width="5" height="27.80"/><rect x="1592.00" y="680.10" width="5" height="8.70"/><rect x="1592.00" y="707.00" width="5" height="27.80"/><rect x="1592.00" y="753.10" width="5" height="8.70"/><rect x="1592.00" y="780.00" width="5" height="27.80"/><rect x="1592.00" y="826.10" width="5" height="8.70"/><rect x="1592.00" y="853.00" width="5" height="27.80"/><rect x="1592.00" y="899.10" width="5" height="8.70"/><rect x="1592.00" y="926.00" width="5" height="27.80"/><rect x="1592.00" y="972.10" width="5" height="8.70"/><rect x="1592.00" y="999.00" width="5" height="27.80"/><rect x="1592.00" y="1045.10" width="5" height="8.70"/><rect x="1592.00" y="1072.00" width="5" height="27.80"/><rect x="1592.00" y="1118.10" width="5" height="8.70"/><rect x="1592.00" y="1145.00" width="5" height="27.80"/><rect x="1592.00" y="1191.10" width="5" height="8.70"/><rect x="1592.00" y="1218.00" width="5" height="27.80"/><rect x="1592.00" y="1264.10" width="5" height="8.70"/><rect x="1592.00" y="1291.00" width="5" height="27.80"/><rect x="1592.00" y="1337.10" width="5" height="8.70"/><rect x="1592.00" y="1364.00" width="5" height="27.80"/><rect x="1592.00" y="1410.10" width="5" height="8.70"/><rect x="1592.00" y="1437.00" width="5" height="27.80"/><rect x="1592.00" y="1483.10" width="5" height="8.70"/><rect x="1592.00" y="1510.00" width="5" height="27.80"/><rect x="1592.00" y="1556.10" width="5" height="8.70"/><rect x="1592.00" y="1583.00" width="5" height="27.50"/></g>
<polyline points="893.8,391.7 900.0,394.8 905.2,396.5 908.7,400.8 917.4,408.7 926.1,415.6 931.2,417.3 937.4,420.0 941.7,419.9 947.8,419.1 960.8,416.9 973.9,417.8 982.6,421.7 989.5,426.9 998.2,436.5 1008.6,448.6 1017.3,460.0 1026.0,472.1 1034.7,485.2 1040.0,496.0 1048.2,510.0 1056.3,523.5 1066.1,537.0 1079.1,550.1 1092.2,563.1 1101.9,574.5 1111.7,587.6 1121.5,602.2 1131.3,615.3 1144.3,626.7 1157.4,639.7 1170.4,654.4 1183.4,670.7 1196.5,685.4 1209.5,696.8 1222.6,711.5 1230.0,721.2 1246.3,740.7 1262.6,761.9 1278.9,783.1 1295.2,804.3 1311.5,828.8 1327.8,851.6 1344.1,872.8 1360.4,895.6 1376.7,915.2 1393.0,934.7 1409.3,955.9 1420.0,971.0 1436.3,988.9 1452.6,1006.8 1468.9,1028.0 1485.2,1049.2 1501.5,1067.1 1517.8,1085.1 1534.1,1101.4 1550.4,1117.7 1563.4,1134.0 1576.5,1151.9 1589.5,1174.7 1599.3,1192.6 1610.0,1206.7 1623.2,1218.4 1636.4,1234.5 1651.1,1250.7 1661.3,1269.7 1673.1,1285.9 1684.8,1302.0 1698.0,1315.2 1709.7,1331.3 1721.5,1336.4 1734.7,1348.2 1744.9,1350.4 1756.6,1370.9 1769.8,1365.0 1780.1,1379.7 1793.3,1392.9 1803.6,1398.8 1816.8,1398.0 1828.5,1417.8 1840.2,1414.9 1850.5,1395.1 1862.2,1409.0 1872.0,1422.0" fill="none" stroke="#f00" stroke-width="5.8" stroke-linejoin="round" stroke-linecap="round"/>
<line x1="814.4" y1="58.5" x2="1855.1" y2="1446.1" stroke="#00f" stroke-width="5.5" stroke-dasharray="18.26 18.26" stroke-dashoffset="0.3"/>
<rect x="1207.38" y="131.19" width="64.13" height="62.88" fill="#fff"/><text x="1207.38" y="181.19" font-family="Liberation Serif, serif" font-size="55">(6)</text><rect x="1321.38" y="219.09" width="64.13" height="62.88" fill="#fff"/><text x="1321.38" y="269.09" font-family="Liberation Serif, serif" font-size="55">(5)</text><rect x="1388.98" y="296.59" width="64.13" height="62.88" fill="#fff"/><text x="1388.98" y="346.59" font-family="Liberation Serif, serif" font-size="55">(4)</text><rect x="1449.28" y="369.29" width="64.13" height="62.88" fill="#fff"/><text x="1449.28" y="419.29" font-family="Liberation Serif, serif" font-size="55">(3)</text><rect x="1499.48" y="447.69" width="64.13" height="62.88" fill="#fff"/><text x="1499.48" y="497.69" font-family="Liberation Serif, serif" font-size="55">(2)</text><rect x="1566.78" y="515.99" width="64.13" height="62.88" fill="#fff"/><text x="1566.78" y="565.99" font-family="Liberation Serif, serif" font-size="55">(1)</text>
</g>
<rect x="312.5" y="58.5" width="1553" height="1552" fill="none" stroke="#000" stroke-width="5"/>
<rect x="310" y="1613" width="1558" height="1" fill="#000"/>
<g fill="#000"><rect x="378.07" y="1589" width="5" height="22"/><rect x="426.58" y="1589" width="5" height="22"/><rect x="464.21" y="1589" width="5" height="22"/><rect x="494.96" y="1589" width="5" height="22"/><rect x="520.95" y="1589" width="5" height="22"/><rect x="543.47" y="1589" width="5" height="22"/><rect x="563.33" y="1589" width="5" height="22"/><rect x="581.10" y="1570" width="5" height="41"/><rect x="697.99" y="1589" width="5" height="22"/><rect x="766.37" y="1589" width="5" height="22"/><rect x="814.88" y="1589" width="5" height="22"/><rect x="852.51" y="1589" width="5" height="22"/><rect x="883.26" y="1589" width="5" height="22"/><rect x="909.25" y="1589" width="5" height="22"/><rect x="931.77" y="1589" width="5" height="22"/><rect x="951.63" y="1589" width="5" height="22"/><rect x="611.85" y="1599" width="5" height="12"/><rect x="637.84" y="1599" width="5" height="12"/><rect x="660.36" y="1599" width="5" height="12"/><rect x="680.22" y="1599" width="5" height="12"/><rect x="969.40" y="1570" width="5" height="41"/><rect x="1086.29" y="1589" width="5" height="22"/><rect x="1154.67" y="1589" width="5" height="22"/><rect x="1203.18" y="1589" width="5" height="22"/><rect x="1240.81" y="1589" width="5" height="22"/><rect x="1271.56" y="1589" width="5" height="22"/><rect x="1297.55" y="1589" width="5" height="22"/><rect x="1320.07" y="1589" width="5" height="22"/><rect x="1339.93" y="1589" width="5" height="22"/><rect x="1000.15" y="1599" width="5" height="12"/><rect x="1026.14" y="1599" width="5" height="12"/><rect x="1048.66" y="1599" width="5" height="12"/><rect x="1068.52" y="1599" width="5" height="12"/><rect x="1357.70" y="1570" width="5" height="41"/><rect x="1474.59" y="1589" width="5" height="22"/><rect x="1542.97" y="1589" width="5" height="22"/><rect x="1591.48" y="1589" width="5" height="22"/><rect x="1629.11" y="1589" width="5" height="22"/><rect x="1659.86" y="1589" width="5" height="22"/><rect x="1685.85" y="1589" width="5" height="22"/><rect x="1708.37" y="1589" width="5" height="22"/><rect x="1728.23" y="1589" width="5" height="22"/><rect x="1388.45" y="1599" width="5" height="12"/><rect x="1414.44" y="1599" width="5" height="12"/><rect x="1436.96" y="1599" width="5" height="12"/><rect x="1456.82" y="1599" width="5" height="12"/><rect x="1746.00" y="1570" width="5" height="41"/><rect x="1776.75" y="1599" width="5" height="12"/><rect x="1802.74" y="1599" width="5" height="12"/><rect x="1825.26" y="1599" width="5" height="12"/><rect x="1845.12" y="1599" width="5" height="12"/><rect x="313" y="1436.20" width="41" height="5"/><rect x="313" y="1263.60" width="41" height="5"/><rect x="313" y="1091.00" width="41" height="5"/><rect x="313" y="918.40" width="41" height="5"/><rect x="313" y="745.80" width="41" height="5"/><rect x="313" y="573.20" width="41" height="5"/><rect x="313" y="400.60" width="41" height="5"/><rect x="313" y="228.00" width="41" height="5"/></g>
<g fill="#000"><text transform="translate(205.51 1641.60) scale(0.955 1.025)" x="-4.83" y="0" font-family="Liberation Serif, serif" font-size="55">10</text><text x="253.68" y="1604.30" font-family="Liberation Serif, serif" font-size="39">-5</text><text transform="translate(205.51 1469.00) scale(0.955 1.025)" x="-4.83" y="0" font-family="Liberation Serif, serif" font-size="55">10</text><text x="253.68" y="1431.70" font-family="Liberation Serif, serif" font-size="39">-4</text><text transform="translate(205.51 1296.40) scale(0.955 1.025)" x="-4.83" y="0" font-family="Liberation Serif, serif" font-size="55">10</text><text x="253.68" y="1259.10" font-family="Liberation Serif, serif" font-size="39">-3</text><text transform="translate(205.51 1123.80) scale(0.955 1.025)" x="-4.83" y="0" font-family="Liberation Serif, serif" font-size="55">10</text><text x="253.68" y="1086.50" font-family="Liberation Serif, serif" font-size="39">-2</text><text transform="translate(205.51 951.20) scale(0.955 1.025)" x="-4.83" y="0" font-family="Liberation Serif, serif" font-size="55">10</text><text x="253.68" y="913.90" font-family="Liberation Serif, serif" font-size="39">-1</text><text transform="translate(218.50 778.60) scale(0.955 1.025)" x="-4.83" y="0" font-family="Liberation Serif, serif" font-size="55">10</text><text x="266.67" y="741.30" font-family="Liberation Serif, serif" font-size="39">0</text><text transform="translate(218.50 606.00) scale(0.955 1.025)" x="-4.83" y="0" font-family="Liberation Serif, serif" font-size="55">10</text><text x="266.67" y="568.70" font-family="Liberation Serif, serif" font-size="39">1</text><text transform="translate(218.50 433.40) scale(0.955 1.025)" x="-4.83" y="0" font-family="Liberation Serif, serif" font-size="55">10</text><text x="266.67" y="396.10" font-family="Liberation Serif, serif" font-size="39">2</text><text transform="translate(218.50 260.80) scale(0.955 1.025)" x="-4.83" y="0" font-family="Liberation Serif, serif" font-size="55">10</text><text x="266.67" y="223.50" font-family="Liberation Serif, serif" font-size="39">3</text><text transform="translate(218.50 88.20) scale(0.955 1.025)" x="-4.83" y="0" font-family="Liberation Serif, serif" font-size="55">10</text><text x="266.67" y="50.90" font-family="Liberation Serif, serif" font-size="39">4</text><text transform="translate(537.80 1686.8) scale(0.97 1.01)" x="-2.09" y="0" font-family="Liberation Serif, serif" font-size="55">0.01</text><text transform="translate(939.90 1686.8) scale(0.97 1.01)" x="-2.09" y="0" font-family="Liberation Serif, serif" font-size="55">0.1</text><text transform="translate(1352.40 1686.8) scale(0.97 1.01)" x="-4.83" y="0" font-family="Liberation Serif, serif" font-size="55">1</text><text transform="translate(1726.90 1686.8) scale(0.97 1.01)" x="-4.83" y="0" font-family="Liberation Serif, serif" font-size="55">10</text><text transform="translate(981.5 1803.9) scale(1.3 1)" font-family="Liberation Serif, serif" font-style="italic" font-size="82">f</text><text x="1043.0" y="1803.9" font-family="Liberation Serif, serif" font-size="82">(Hz)</text><g transform="translate(110.7 0) rotate(-90)"><text x="-1149.3" y="0" font-family="Liberation Serif, serif" font-size="82">PSD S(</text><text transform="translate(-905.5 0) scale(1.3 1)" font-family="Liberation Serif, serif" font-style="italic" font-size="82">f</text><text x="-864.0" y="0" font-family="Liberation Serif, serif" font-size="82">) (n</text><text x="-744.8" y="0" font-family="Liberation Serif, serif" font-size="82">T</text><text x="-696.5" y="-53.7" font-family="Liberation Serif, serif" font-size="61">2</text><text x="-666.5" y="0" font-family="Liberation Serif, serif" font-size="82">/Hz)</text></g><text transform="translate(946.8 175.6) scale(1 1.17)" font-family="DejaVu Sans, sans-serif" font-size="37.2">≃</text><text transform="translate(977.0 177.4) scale(1.3 1)" font-family="Liberation Serif, serif" font-style="italic" font-size="53.5">f</text><text x="1005.6" y="140.6" font-family="Liberation Serif, serif" font-size="38.2">-8/3</text></g>
</svg>
</body></html>
